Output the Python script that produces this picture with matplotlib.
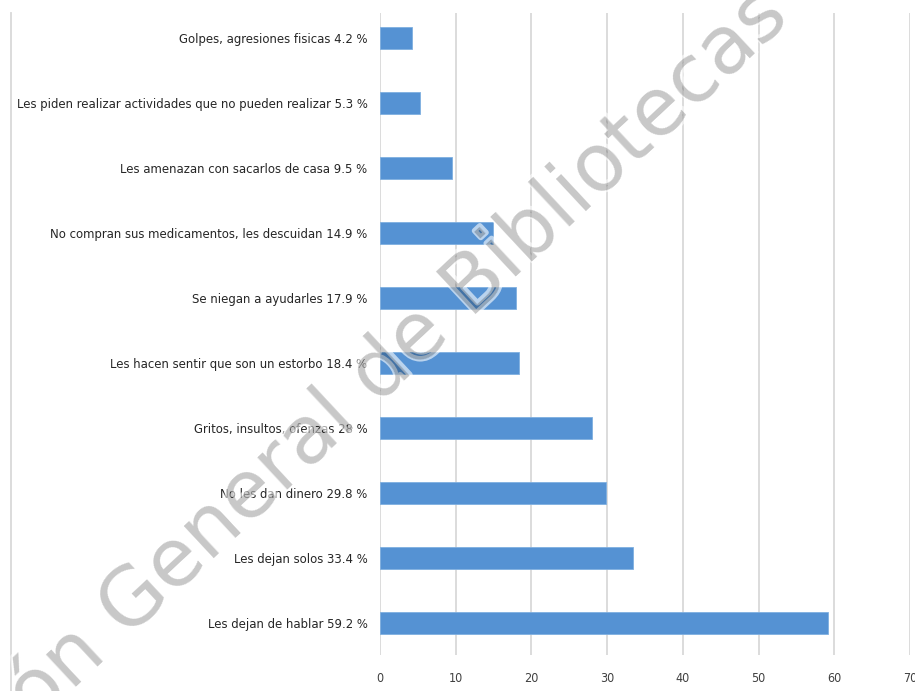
import matplotlib
matplotlib.use("Agg")
import matplotlib.pyplot as plt
from matplotlib import font_manager
from matplotlib.lines import Line2D
import matplotlib.patheffects as pe

categories = [
    "Golpes, agresiones fisicas",
    "Les piden realizar actividades que no pueden realizar",
    "Les amenazan con sacarlos de casa",
    "No compran sus medicamentos, les descuidan",
    "Se niegan a ayudarles",
    "Les hacen sentir que son un estorbo",
    "Gritos, insultos, ofenzas",
    "No les dan dinero",
    "Les dejan solos",
    "Les dejan de hablar",
]
values = [4.2, 5.3, 9.5, 14.9, 17.9, 18.4, 28, 29.8, 33.4, 59.2]
xticks = [0, 10, 20, 30, 40, 50, 60, 70]
watermark = "Dirección General de Bibliotecas"

# pick a condensed sans face if one is installed
label_family = "Liberation Sans"
label_stretch = "normal"
for f in font_manager.fontManager.ttflist:
    nm = f.name.lower()
    if "narrow" in nm or "condensed" in nm:
        label_family = f.name
        break
    if str(f.stretch) in ("condensed", "semi-condensed") and "sans" in nm:
        label_family = f.name
        label_stretch = f.stretch
        break
plt.rcParams["font.family"] = [label_family, "DejaVu Sans"]

fig = plt.figure(figsize=(9.15, 6.91), dpi=100)
ax = fig.add_axes([380 / 915, 1 - 655 / 691, 530 / 915, (655 - 13) / 691])

labels = [f"{c} {v:g} %" for c, v in zip(categories, values)]
ypos = list(range(len(categories)))
ax.barh(ypos, values, height=0.34, color="#5592d3", edgecolor="#7fb0e0",
        linewidth=0.6, zorder=3)
ax.set_xlim(0, 70)
ax.set_ylim(9.49, -0.385)
ax.set_yticks(ypos)
ax.set_yticklabels(labels, fontsize=12, color="#262626", fontstretch=label_stretch)
ax.set_xticks(xticks)
ax.set_xticklabels([str(t) for t in xticks], fontsize=9, color="#404040",
                   fontstretch=label_stretch)
ax.tick_params(axis="both", length=0)
ax.tick_params(axis="y", pad=9)
ax.tick_params(axis="x", pad=12)
ax.xaxis.grid(True, color="#d9d9d9", linewidth=1.3, zorder=0)
ax.set_axisbelow(True)
for s in ax.spines.values():
    s.set_visible(False)

# fit the category labels into the space left of the plot (as in the reference)
fig.canvas.draw()
r = fig.canvas.get_renderer()
wmax = max(t.get_window_extent(r).width for t in ax.get_yticklabels())
size = 12 * 350 / wmax
for t in ax.get_yticklabels():
    t.set_fontsize(size)

fig.add_artist(Line2D([10.5 / 915, 10.5 / 915], [0, 1 - 13 / 691],
                      transform=fig.transFigure, color="#d9d9d9", linewidth=1.3))

wm_kw = dict(fontsize=58, family="DejaVu Sans", rotation=43,
             rotation_mode="anchor", ha="center", va="baseline")
wx, wy = 312 / 915, 1 - 466 / 691
# white halo around the watermark letters
fig.text(wx, wy, watermark, color=(1, 1, 1, 0), zorder=10,
         path_effects=[pe.Stroke(linewidth=4, foreground=(1, 1, 1, 0.6))], **wm_kw)
# translucent grey watermark
fig.text(wx, wy, watermark, color=(0, 0, 0, 0.22), zorder=11, **wm_kw)

fig.savefig("out.png", dpi=100)
